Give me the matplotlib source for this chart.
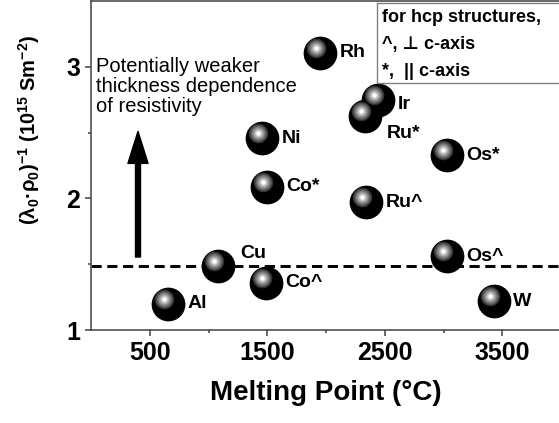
import matplotlib
matplotlib.use("Agg")
import matplotlib.pyplot as plt
from matplotlib.patches import Rectangle
from matplotlib.transforms import offset_copy

plt.rcParams['font.family'] = ['Liberation Sans', 'DejaVu Sans']
plt.rcParams['mathtext.fontset'] = 'custom'
plt.rcParams['mathtext.rm'] = 'Liberation Sans:bold'
plt.rcParams['mathtext.bf'] = 'Liberation Sans:bold'
plt.rcParams['mathtext.it'] = 'Liberation Sans:bold'
plt.rcParams['mathtext.default'] = 'bf'

# Melting point (°C) vs inverse (lambda0 * rho0) product (10^15 S m^-2)
metals = ['Al', 'Cu', 'Co^', 'Co*', 'Ni', 'Rh', 'Ru*', 'Ir', 'Ru^', 'Os*', 'Os^', 'W']
melting_point = [655, 1081, 1489, 1495, 1455, 1949, 2332, 2443, 2340, 3030, 3030, 3430]
inv_lambda_rho = [1.20, 1.49, 1.36, 2.09, 2.46, 3.11, 2.63, 2.75, 1.97, 2.33, 1.56, 1.22]
# label offsets (points) relative to each sphere
label_offsets = {'Cu': (16, 9), 'Ru*': (16, -13), 'Ir': (14, -3)}

threshold = 1.49
x_ticks = [500, 1500, 2500, 3500]
y_ticks = [1, 2, 3]

W, H = 559, 423
fig = plt.figure(figsize=(W / 100, H / 100), dpi=100)
ax_left, ax_bottom = 91, 93
x_max = 4200
px_per_x = 0.1175
px_per_y = 131.5
ax_w_px = x_max * px_per_x
ax_h_px = 2.5 * px_per_y
ax = fig.add_axes([ax_left / W, ax_bottom / H, ax_w_px / W, ax_h_px / H])
ax.set_xlim(0, x_max)
ax.set_ylim(1, 3.5)

spine_col = '#404040'
for s in ax.spines.values():
    s.set_color(spine_col)
    s.set_linewidth(1.1)

ax.set_xticks(x_ticks)
ax.set_xticks([1000, 2000, 3000, 4000], minor=True)
ax.set_yticks(y_ticks)
ax.set_yticks([1.5, 2.5], minor=True)
ax.tick_params(which='major', direction='out', length=4, width=1.1,
               color=spine_col, labelsize=18, pad=4)
ax.tick_params(which='minor', direction='out', length=2.5, width=1.1,
               color=spine_col)
for lab in ax.get_xticklabels() + ax.get_yticklabels():
    lab.set_fontweight('bold')

# threshold line
ax.axhline(threshold, color='black', lw=2.1, linestyle=(0, (3.5, 1.9)), zorder=2)

# upward arrow
ax.annotate('', xy=(400, 2.51), xytext=(400, 1.555),
            arrowprops=dict(width=3.6, headwidth=14.5, headlength=23,
                            color='black', shrink=0), zorder=3)
ax.text(43, 3.075, 'Potentially weaker\nthickness dependence\nof resistivity',
        fontsize=14.5, va='top', ha='left', linespacing=1.05)

# glossy sphere markers: dark body with a graded highlight toward upper left
ax.scatter(melting_point, inv_lambda_rho, s=590, color='black', zorder=4,
           linewidths=0)
layers = [(9.8, '#303030', 4), (8.6, '#505050', 4), (7.3, '#707070', 4),
          (6.0, '#909090', 4), (4.6, '#b0b0b0', 4), (3.3, '#d4d4d4', 4),
          (2.0, '#ffffff', 4)]
for i, (rad, col, off) in enumerate(layers):
    tr = offset_copy(ax.transData, fig=fig, x=-off, y=off + 1, units='dots')
    d_pt = 2 * rad * 0.72
    ax.scatter(melting_point, inv_lambda_rho, s=d_pt ** 2, color=col,
               transform=tr, zorder=5 + i, linewidths=0)

for name, xv, yv in zip(metals, melting_point, inv_lambda_rho):
    dx, dy = label_offsets.get(name, (14, 0))
    ax.annotate(name, (xv, yv), xytext=(dx, dy), textcoords='offset points',
                fontsize=14, fontweight='bold', ha='left', va='center',
                zorder=12)

# hcp notation box
box_l = (377 - ax_left) / ax_w_px
box_top = (H - 3 - ax_bottom) / ax_h_px
box_bot = (H - 83 - ax_bottom) / ax_h_px
ax.add_patch(Rectangle((box_l, box_bot), 0.6, box_top - box_bot,
                       transform=ax.transAxes, facecolor='white',
                       edgecolor='#808080', linewidth=1.0, zorder=13,
                       clip_on=False))
ax.text((382 - ax_left) / ax_w_px, (H - 9.5 - ax_bottom) / ax_h_px,
        'for hcp structures,\n^, \u22a5 c-axis\n*,  || c-axis',
        transform=ax.transAxes, fontsize=13, fontweight='bold',
        va='top', ha='left', linespacing=1.75, zorder=14)

ax.set_xlabel('Melting Point (°C)', fontsize=20, fontweight='bold')
ax.xaxis.label.set_va('center')
ax.xaxis.set_label_coords((326 - ax_left) / ax_w_px, (H - 393 - ax_bottom) / ax_h_px)
ax.set_ylabel(r'(λ$_{0}$·ρ$_{0}$)$^{-1}$ (10$^{15}$ Sm$^{-2}$)', fontsize=14.5,
              fontweight='bold')
ax.yaxis.label.set_va('center')
ax.yaxis.set_label_coords((29 - ax_left) / ax_w_px, (H - 130 - ax_bottom) / ax_h_px)

fig.savefig('out.png', dpi=100)
